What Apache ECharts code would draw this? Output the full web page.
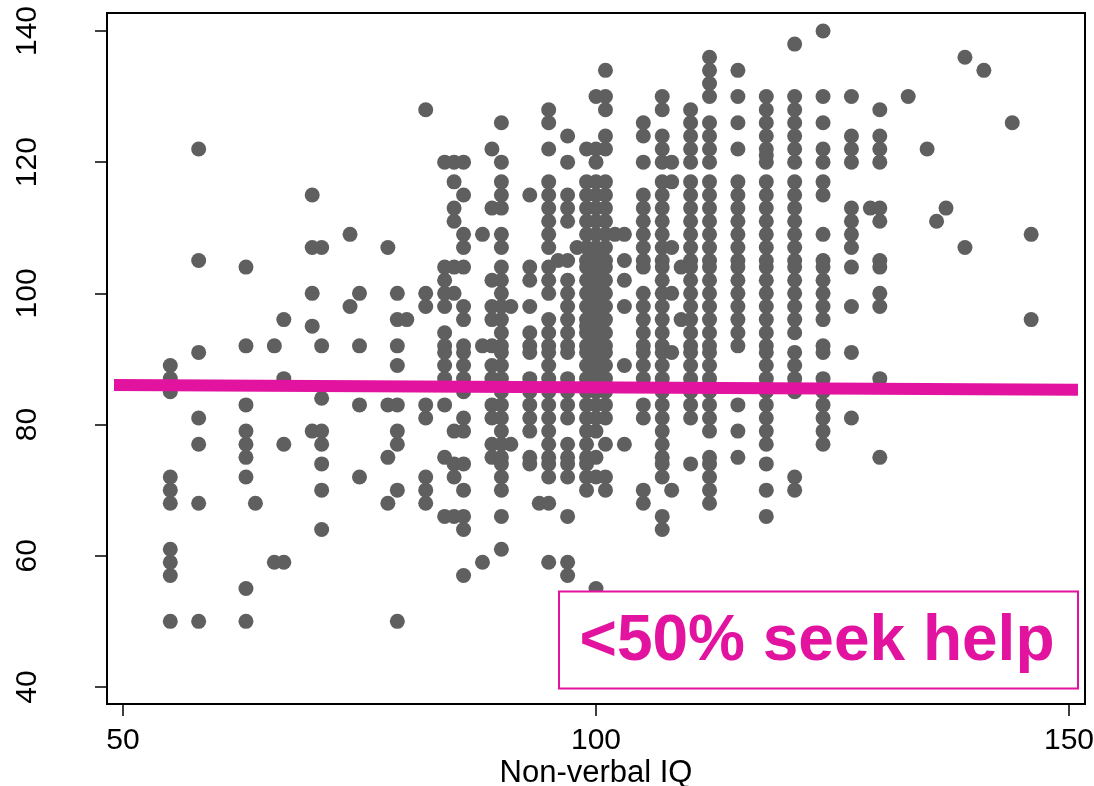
<!DOCTYPE html>
<html>
<head>
<meta charset="utf-8">
<style>html,body{margin:0;padding:0;background:#fff}#c{width:1094px;height:786px}</style>
<script src="https://cdn.jsdelivr.net/npm/echarts@6/dist/echarts.min.js"></script>
</head>
<body>
<div id="c"></div>
<script>
const xTicks = [50, 100, 150];
const yTicks = [40, 60, 80, 100, 120, 140];
const xTitle = "Non-verbal IQ";
const calloutText = "<50% seek help";
const trendLine = [[49.05, 86.04], [150.95, 85.3]];

const iq55 = [89,87,85,72,70,68,61,59,57,50];
const iq58 = [122,105,91,81,77,68,50];
const iq63 = [104,92,83,79,77,75,72,55,50];
const iq64 = [68];
const iq66 = [92,59];
const iq67 = [96,87,77,59];
const iq70 = [115,107,100,95,79];
const iq71 = [107,92,84,79,77,74,70,64];
const iq74 = [109,98];
const iq75 = [100,92,83,72];
const iq78 = [107,83,75,68];
const iq79 = [100,96,92,89,83,79,77,70,50];
const iq80 = [96];
const iq82 = [128,100,98,83,81,72,70,68];
const iq84 = [120,104,102,100,98,94,92,91,89,87,83,75,66];
const iq85 = [120,117,113,111,104,100,79,74,72,66];
const iq86 = [120,115,109,107,104,98,96,92,91,89,87,85,81,79,74,70,66,64,57];
const iq88 = [109,92,59];
const iq89 = [122,113,102,98,96,92,89,87,83,81,77,75];
const iq90 = [126,120,117,115,113,109,107,104,102,100,98,96,94,92,91,89,87,85,83,81,79,77,75,74,72,70,66,61];
const iq91 = [98,77];
const iq93 = [115,104,102,98,94,92,91,87,85,83,81,79,75,74];
const iq94 = [68];
const iq95 = [128,126,122,117,115,113,111,109,107,104,102,100,96,94,92,91,89,87,85,83,81,79,77,75,74,72,68,59];
const iq96 = [105];
const iq97 = [124,120,115,113,111,105,102,100,98,96,94,92,91,87,85,83,81,77,75,74,72,66,59,57];
const iq98 = [107];
const iq99 = [122,117,115,113,111,109,107,105,104,102,100,98,96,95,94,92,91,89,87,85,83,81,79,77,75,74,72,70];
const iq100 = [130,122,120,117,115,113,111,109,107,106,105,104,103,102,101,100,99,98,97,96,95,94,93,92,91,90,89,88,87,85,83,81,79,75,72,55];
const iq101 = [134,130,128,124,122,117,115,113,111,109,107,105,104,102,100,98,96,94,92,91,89,87,85,83,81,77,72,70];
const iq102 = [109];
const iq103 = [109,105,102,98,89,77];
const iq105 = [126,124,120,115,113,111,109,107,105,104,100,98,96,94,92,91,89,87,83,81,70,68];
const iq107 = [130,128,124,122,120,117,115,113,111,109,107,105,104,102,100,98,96,94,92,91,89,87,85,83,81,79,77,75,74,72,66,64];
const iq108 = [120,117,107,100,91,70];
const iq109 = [104,96];
const iq110 = [128,126,124,122,120,117,115,113,111,109,107,105,104,102,100,98,96,94,92,91,89,87,85,83,81,74];
const iq112 = [136,134,132,130,126,124,122,120,117,115,113,111,109,107,105,104,102,100,98,96,94,92,91,89,87,85,83,81,79,75,74,72,70,68];
const iq115 = [134,130,126,122,117,115,113,111,109,107,105,104,102,100,98,96,94,92,83,79,75];
const iq118 = [130,128,126,124,122,121,120,117,115,113,111,109,107,105,104,102,100,98,96,94,92,91,89,87,85,83,81,79,77,74,70,66];
const iq121 = [138,130,128,126,124,122,120,117,115,113,111,109,107,105,104,102,100,98,96,94,91,89,87,85,72,70];
const iq124 = [140,130,126,122,120,117,115,109,105,104,102,100,98,96,92,91,87,85,83,81,79,77];
const iq127 = [130,124,122,120,113,111,109,107,104,98,91,81];
const iq129 = [113];
const iq130 = [128,124,122,120,113,111,105,104,100,98,87,75];
const iq133 = [130];
const iq135 = [122];
const iq136 = [111];
const iq137 = [113];
const iq139 = [136,107];
const iq141 = [134];
const iq144 = [126];
const iq146 = [109,96];

const columns = [
  [55,iq55],[58,iq58],[63,iq63],[64,iq64],[66,iq66],[67,iq67],[70,iq70],[71,iq71],[74,iq74],[75,iq75],
  [78,iq78],[79,iq79],[80,iq80],[82,iq82],[84,iq84],[85,iq85],[86,iq86],[88,iq88],[89,iq89],[90,iq90],
  [91,iq91],[93,iq93],[94,iq94],[95,iq95],[96,iq96],[97,iq97],[98,iq98],[99,iq99],[100,iq100],[101,iq101],
  [102,iq102],[103,iq103],[105,iq105],[107,iq107],[108,iq108],[109,iq109],[110,iq110],[112,iq112],[115,iq115],
  [118,iq118],[121,iq121],[124,iq124],[127,iq127],[129,iq129],[130,iq130],[133,iq133],[135,iq135],[136,iq136],
  [137,iq137],[139,iq139],[141,iq141],[144,iq144],[146,iq146]
];
const points = [];
columns.forEach(([x, ys]) => ys.forEach(y => points.push([x, y])));

const FONT = '"Liberation Sans", Arial, sans-serif';
const PINK = '#E2139F';
const chart = echarts.init(document.getElementById('c'), null, {renderer: 'canvas'});
chart.setOption({
  animation: false,
  backgroundColor: '#fff',
  grid: {left: 107, right: 9, top: 13, bottom: 82, outerBoundsMode: 'none', show: true, borderColor: '#000', borderWidth: 2, backgroundColor: '#fff'},
  xAxis: {
    type: 'value', min: 48.31, max: 151.69, splitLine: {show: false},
    name: xTitle, nameLocation: 'middle', nameGap: 54, nameMoveOverlap: false,
    nameTextStyle: {fontFamily: FONT, fontSize: 31, color: '#000'},
    axisLine: {show: true, onZero: false, lineStyle: {color: '#000', width: 2}},
    axisTick: {show: true, length: 12, customValues: xTicks, lineStyle: {color: '#000', width: 1.5}},
    axisLabel: {show: true, customValues: xTicks, margin: 22, fontFamily: FONT, fontSize: 30, color: '#000', showMinLabel: true, showMaxLabel: true}
  },
  yAxis: {
    type: 'value', min: 37.4, max: 142.74, splitLine: {show: false},
    axisLine: {show: true, onZero: false, lineStyle: {color: '#000', width: 2}},
    axisTick: {show: true, length: 12, customValues: yTicks, lineStyle: {color: '#000', width: 1.5}},
    axisLabel: {show: true, customValues: yTicks, rotate: 90, margin: 79, align: 'center', verticalAlign: 'middle', fontFamily: FONT, fontSize: 30, color: '#000'}
  },
  series: [
    {type: 'scatter', data: points, symbol: 'circle', symbolSize: 15, clip: false, silent: true,
     itemStyle: {color: '#5f5f5f', opacity: 1}, z: 2},
    {type: 'line', data: trendLine, showSymbol: false, symbol: 'none', silent: true, clip: false,
     lineStyle: {color: PINK, width: 12, cap: 'butt'}, z: 3}
  ],
  graphic: [
    {type: 'rect', z: 10, shape: {x: 559, y: 591.5, width: 519, height: 97},
     style: {fill: '#fff', stroke: PINK, lineWidth: 2}},
    {type: 'text', z: 11, x: 817, y: 642,
     style: {text: calloutText, fill: PINK, font: 'bold 64px ' + FONT, textAlign: 'center', textVerticalAlign: 'middle'}}
  ]
});
</script>
</body>
</html>
